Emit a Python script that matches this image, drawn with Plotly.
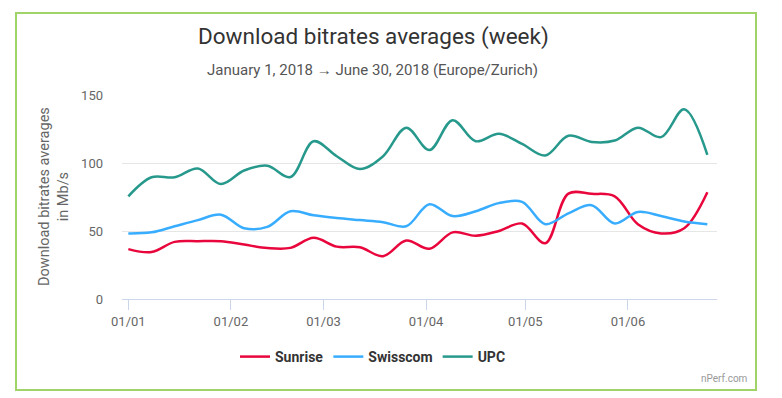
import plotly.graph_objects as go

# ---- data ----
weeks = ["2018-01-01", "2018-01-08", "2018-01-15", "2018-01-22", "2018-01-29",
         "2018-02-05", "2018-02-12", "2018-02-19", "2018-02-26", "2018-03-05",
         "2018-03-12", "2018-03-19", "2018-03-26", "2018-04-02", "2018-04-09",
         "2018-04-16", "2018-04-23", "2018-04-30", "2018-05-07", "2018-05-14",
         "2018-05-21", "2018-05-28", "2018-06-04", "2018-06-11", "2018-06-18",
         "2018-06-25"]
sunrise = [36.7, 34.5, 42, 42.5, 42.5, 40, 37.5, 37.6, 45, 38.5, 38, 31.5, 43,
           37, 49, 46.5, 50, 55.5, 41, 77.5, 77.3, 75.5, 55, 48.2, 52, 78.5]
swisscom = [48.2, 49, 53.5, 58, 62, 52, 53, 64.5, 61.5, 59.5, 58, 56.5, 53.5,
            69.7, 61, 64.5, 70.5, 71.4, 55, 63, 69, 55.5, 64, 61, 57, 55]
upc = [75.5, 89.5, 89.5, 96, 84.5, 94.5, 98, 89.7, 116, 105, 95.5, 105, 126,
       109.5, 131.5, 116, 121.5, 114, 105.5, 120, 115.5, 116.5, 126, 119, 139.5, 106]
series_names = ["Sunrise", "Swisscom", "UPC"]
series_colors = ["#e8063c", "#38adff", "#27998c"]
y_ticks = [0, 50, 100, 150]

title = "Download bitrates averages (week)"
subtitle = "January 1, 2018 \u2192 June 30, 2018 (Europe/Zurich)"
y_title = "Download bitrates averages<br>in Mb/s"
credit = "nPerf.com"

# ---- layout geometry (page pixels; page body has an 8px margin) ----
OFF = 8
W, H = 782 - OFF, 398 - OFF
L, R, T, B = 122 - OFF, 717 - OFF, 95 - OFF, 299 - OFF


def px_x(p):
    """page x pixel -> paper fraction"""
    return (p - OFF - L) / (R - L)


def px_y(p):
    """page y pixel -> paper fraction"""
    return (B - (p - OFF)) / (B - T)


FONT = "Roboto, 'Open Sans', sans-serif"

fig = go.Figure()
for name, vals, col in zip(series_names, [sunrise, swisscom, upc], series_colors):
    fig.add_trace(go.Scatter(
        x=weeks, y=vals, name=name, mode="lines",
        line=dict(color=col, width=2.5, shape="spline", smoothing=1.0),
    ))

fig.update_layout(
    width=W, height=H,
    margin=dict(l=L, r=W - R, t=T, b=H - B, pad=0),
    paper_bgcolor="white", plot_bgcolor="white",
    font=dict(family=FONT, color="#666666", size=13),
    showlegend=True,
    legend=dict(
        orientation="h", x=px_x(373), xanchor="center",
        y=px_y(357), yanchor="middle",
        font=dict(family=FONT, size=14, color="#333333", weight="bold"),
        itemwidth=30, bgcolor="rgba(0,0,0,0)",
    ),
    xaxis=dict(
        type="date",
        range=["2017-12-30 02:00", "2018-06-27 22:00"],
        tickformat="%d/%m", dtick="M1", tick0="2018-01-01",
        showgrid=False, zeroline=False,
        showline=True, linecolor="#ccd6eb", linewidth=1,
        ticks="outside", ticklen=10, tickcolor="#ccd6eb", tickwidth=1,
        tickfont=dict(family=FONT, size=13, color="#666666"),
        fixedrange=True,
    ),
    yaxis=dict(
        range=[0, 150], tickvals=y_ticks,
        showgrid=True, gridcolor="#e6e6e6", gridwidth=1,
        zeroline=False, showline=False, ticks="",
        ticklabelstandoff=18,
        tickfont=dict(family=FONT, size=13, color="#666666"),
        fixedrange=True,
    ),
)

annotations = [
    dict(text=title, x=px_x(373), y=px_y(37), xref="paper", yref="paper",
         xanchor="center", yanchor="middle", showarrow=False,
         font=dict(family=FONT, size=22.5, color="#333333")),
    dict(text=subtitle, x=px_x(372), y=px_y(70), xref="paper", yref="paper",
         xanchor="center", yanchor="middle", showarrow=False,
         font=dict(family=FONT, size=15, color="#555555")),
    dict(text=y_title, x=px_x(54), y=px_y(197), xref="paper", yref="paper",
         xanchor="center", yanchor="middle", showarrow=False, textangle=-90,
         font=dict(family=FONT, size=14.5, color="#666666")),
    dict(text=credit, x=px_x(750), y=px_y(378), xref="paper", yref="paper",
         xanchor="right", yanchor="middle", showarrow=False,
         font=dict(family=FONT, size=10, color="#999999")),
]
fig.update_layout(annotations=annotations)

fig.add_shape(type="rect", xref="paper", yref="paper",
              x0=px_x(16), x1=px_x(756), y0=px_y(390), y1=px_y(13),
              line=dict(color="#a0d468", width=2), fillcolor="rgba(0,0,0,0)",
              layer="above")

fig.write_html("out.html", config={"displayModeBar": False})
